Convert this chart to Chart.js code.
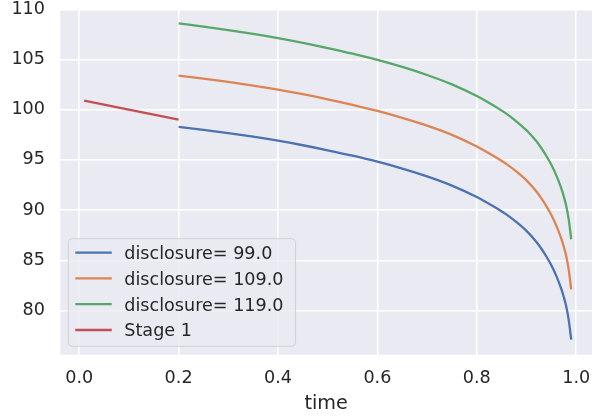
<!DOCTYPE html>
<html>
<head>
<meta charset="utf-8">
<script src="https://cdn.jsdelivr.net/npm/chart.js@4.4.0/dist/chart.umd.min.js"></script>
<style>
  html, body { margin: 0; padding: 0; background: #fff; }
  #wrap { width: 592px; height: 418px; }
</style>
</head>
<body>
<div id="wrap"><canvas id="chart" width="592" height="418"></canvas></div>
<script>
// values
const stageTime = [0.01, 0.05, 0.10, 0.15, 0.20];
const stageValues = [100.9, 100.5, 100.0, 99.5, 99.0];

const time = [0.20, 0.25, 0.30, 0.35, 0.40, 0.45, 0.50, 0.55, 0.60, 0.65, 0.70, 0.75, 0.80,
              0.82, 0.84, 0.86, 0.88, 0.90, 0.92, 0.93, 0.94, 0.95, 0.96, 0.97, 0.975, 0.98, 0.985, 0.99];
const disclosure99 = [98.30, 98.00, 97.67, 97.31, 96.91, 96.46, 95.96, 95.42, 94.82, 94.14, 93.36, 92.44, 91.30,
                      90.77, 90.19, 89.55, 88.80, 87.93, 86.83, 86.15, 85.38, 84.50, 83.45, 82.15, 81.35, 80.40, 79.05, 77.10];
const disclosure109 = [103.40, 103.10, 102.77, 102.40, 102.00, 101.54, 101.04, 100.49, 99.88, 99.19, 98.41, 97.49, 96.34,
                       95.80, 95.22, 94.58, 93.83, 92.96, 91.85, 91.17, 90.40, 89.51, 88.46, 87.16, 86.36, 85.41, 84.06, 82.10];
const disclosure119 = [108.60, 108.28, 107.93, 107.55, 107.13, 106.66, 106.14, 105.58, 104.96, 104.26, 103.46, 102.52, 101.36,
                       100.82, 100.23, 99.58, 98.82, 97.95, 96.85, 96.16, 95.39, 94.51, 93.46, 92.16, 91.36, 90.41, 89.06, 87.10];

const seriesLabels = ['disclosure= 99.0', 'disclosure= 109.0', 'disclosure= 119.0', 'Stage 1'];
const seriesColors = ['#4C72B0', '#DD8452', '#55A868', '#C44E52'];

const xTicks = [0.0, 0.2, 0.4, 0.6, 0.8, 1.0];
const yTicks = [80, 85, 90, 95, 100, 105, 110];

const FONT = "'DejaVu Sans', sans-serif";
const TEXT = '#262626';

function pts(xs, ys) { return xs.map((x, i) => ({x: x, y: ys[i]})); }

const bgPlugin = {
    id: 'bg',
    beforeDraw(chart) {
        const a = chart.chartArea, ctx = chart.ctx;
        ctx.save();
        ctx.fillStyle = '#EAEAF2';
        ctx.fillRect(a.left, a.top, a.right - a.left, a.bottom - a.top);
        ctx.restore();
    }
};

// matplotlib-style legend in the lower left of the plot
const legendPlugin = {
    id: 'innerLegend',
    afterDatasetsDraw(chart) {
        const a = chart.chartArea, ctx = chart.ctx;
        ctx.save();
        ctx.font = '17.6px ' + FONT;
        let maxW = 0;
        chart.data.datasets.forEach(d => { maxW = Math.max(maxW, ctx.measureText(d.label).width); });
        const x0 = a.left + 8, rowH = 25.8;
        const textX = x0 + 56;
        const w = 56 + maxW + 12, h = 107.7;
        const y0 = a.bottom - 8.4 - h;
        ctx.beginPath();
        ctx.roundRect(x0, y0, w, h, 4);
        ctx.fillStyle = 'rgba(234,234,242,0.8)';
        ctx.fill();
        ctx.strokeStyle = 'rgba(204,204,204,0.8)';
        ctx.lineWidth = 1;
        ctx.stroke();
        chart.data.datasets.forEach((d, i) => {
            const cy = y0 + 14 + i * rowH;
            ctx.beginPath();
            ctx.moveTo(x0 + 7, cy);
            ctx.lineTo(x0 + 43.5, cy);
            ctx.strokeStyle = d.borderColor;
            ctx.lineWidth = 2.3;
            ctx.stroke();
            ctx.fillStyle = TEXT;
            ctx.textBaseline = 'alphabetic';
            ctx.fillText(d.label, textX, cy + 6.4);
        });
        ctx.restore();
    }
};

const datasets = [
    {label: seriesLabels[0], data: pts(time, disclosure99), borderColor: seriesColors[0]},
    {label: seriesLabels[1], data: pts(time, disclosure109), borderColor: seriesColors[1]},
    {label: seriesLabels[2], data: pts(time, disclosure119), borderColor: seriesColors[2]},
    {label: seriesLabels[3], data: pts(stageTime, stageValues), borderColor: seriesColors[3]}
].map(d => Object.assign(d, {
    borderWidth: 2.3, pointRadius: 0, fill: false, cubicInterpolationMode: 'monotone'
}));

new Chart(document.getElementById('chart'), {
    type: 'line',
    data: {datasets: datasets},
    plugins: [bgPlugin, legendPlugin],
    options: {
        responsive: false,
        animation: false,
        devicePixelRatio: 1,
        layout: {padding: {top: 9.3, left: 0, right: 0, bottom: 0}},
        plugins: {legend: {display: false}, tooltip: {enabled: false}},
        scales: {
            x: {
                type: 'linear',
                min: -0.038, max: 1.0318,
                afterBuildTicks: s => { s.ticks = xTicks.map(v => ({value: v})); },
                afterFit: s => { s.height = 63.3; s.paddingLeft = 0; s.paddingRight = 0; },
                grid: {color: '#ffffff', lineWidth: 1.5, drawTicks: false},
                border: {display: false},
                ticks: {
                    color: TEXT, padding: 13, maxRotation: 0,
                    font: {family: FONT, size: 17.6},
                    callback: v => v.toFixed(1)
                },
                title: {
                    display: true, text: 'time', color: TEXT,
                    font: {family: FONT, size: 19.2},
                    padding: {top: 0, bottom: 2}
                }
            },
            y: {
                min: 75.6, max: 110,
                afterBuildTicks: s => { s.ticks = yTicks.map(v => ({value: v})); },
                afterFit: s => { s.width = 60.3; s.paddingTop = 0; s.paddingBottom = 0; },
                grid: {color: '#ffffff', lineWidth: 1.5, drawTicks: false},
                border: {display: false},
                ticks: {
                    color: TEXT, padding: 15.3,
                    font: {family: FONT, size: 17.6},
                    callback: v => String(v)
                }
            }
        }
    }
});
</script>
</body>
</html>
